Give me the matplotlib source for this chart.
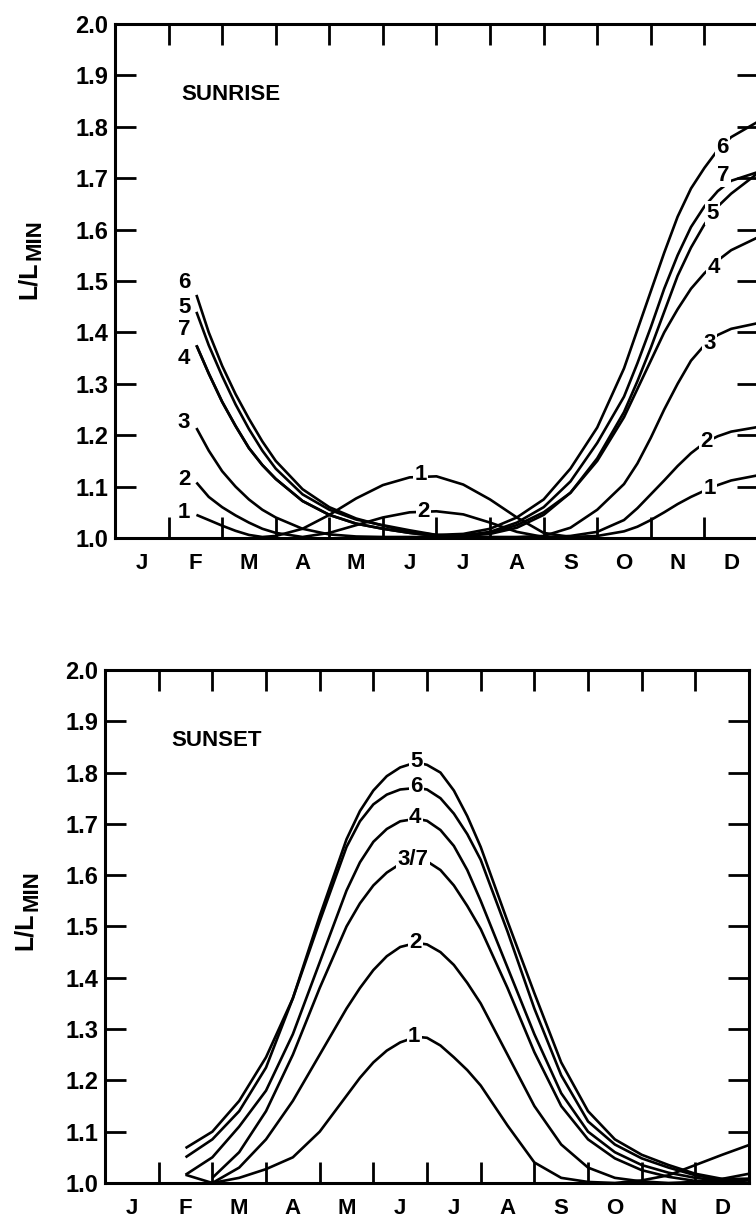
import numpy as np
import matplotlib.pyplot as plt

plt.rcParams['font.family'] = ['Liberation Sans', 'DejaVu Sans']

nan = np.nan
MONTH_LABELS = ['J', 'F', 'M', 'A', 'M', 'J', 'J', 'A', 'S', 'O', 'N', 'D']

# sunrise curves, month (0 = 1 Jan, 12 = 31 Dec) vs L/Lmin
rise_months = [1.52, 1.75, 2.0, 2.25, 2.5, 2.75, 3.0, 3.5, 4.0, 4.5, 5.0, 5.5, 6.0, 6.5,
               7.0, 7.5, 8.0, 8.5, 9.0, 9.5, 9.75, 10.0, 10.25, 10.5, 10.75, 11.0,
               11.25, 11.5, 12.0]
rise_1 = [1.045, 1.035, 1.024, 1.014, 1.006, 1.002, 1.004, 1.018, 1.045, 1.077, 1.103,
          1.118, 1.12, 1.104, 1.075, 1.04, 1.01, 1.002, 1.004, 1.013, 1.022, 1.035,
          1.05, 1.066, 1.08, 1.092, 1.103, 1.112, 1.122]
rise_2 = [1.108, 1.08, 1.06, 1.044, 1.03, 1.018, 1.01, 1.002, 1.01, 1.025, 1.04, 1.05,
          1.052, 1.046, 1.03, 1.012, 1.002, 1.004, 1.012, 1.035, 1.058, 1.085, 1.112,
          1.14, 1.165, 1.185, 1.198, 1.207, 1.216]
rise_3 = [1.214, 1.17, 1.13, 1.10, 1.075, 1.055, 1.04, 1.018, 1.007, 1.003, 1.002, 1.002,
          1.002, 1.002, 1.002, 1.002, 1.004, 1.02, 1.055, 1.105, 1.145, 1.195, 1.25,
          1.30, 1.345, 1.375, 1.395, 1.407, 1.418]
rise_4 = [1.375, 1.32, 1.265, 1.218, 1.175, 1.142, 1.115, 1.072, 1.045, 1.028, 1.018,
          1.01, 1.004, 1.004, 1.01, 1.025, 1.05, 1.088, 1.15, 1.235, 1.29, 1.345, 1.40,
          1.445, 1.485, 1.515, 1.54, 1.56, 1.585]
rise_5 = [1.44, 1.375, 1.315, 1.26, 1.212, 1.17, 1.135, 1.085, 1.055, 1.036, 1.025,
          1.015, 1.006, 1.004, 1.008, 1.02, 1.045, 1.088, 1.155, 1.245, 1.305, 1.37,
          1.44, 1.51, 1.565, 1.61, 1.645, 1.67, 1.71]
rise_6 = [1.473, 1.40, 1.335, 1.28, 1.232, 1.188, 1.15, 1.095, 1.06, 1.038, 1.024, 1.012,
          1.006, 1.008, 1.018, 1.04, 1.075, 1.135, 1.215, 1.33, 1.405, 1.48, 1.555,
          1.625, 1.68, 1.72, 1.755, 1.78, 1.81]
rise_7 = [1.375, 1.32, 1.265, 1.218, 1.175, 1.142, 1.115, 1.072, 1.045, 1.028, 1.018,
          1.01, 1.004, 1.005, 1.012, 1.03, 1.06, 1.11, 1.185, 1.275, 1.34, 1.41, 1.485,
          1.55, 1.605, 1.645, 1.675, 1.695, 1.712]

# sunset curves
set_months = [1.5, 2.0, 2.5, 3.0, 3.5, 4.0, 4.5, 4.75, 5.0, 5.25, 5.5, 5.8, 6.0, 6.25,
              6.5, 6.75, 7.0, 7.5, 8.0, 8.5, 9.0, 9.5, 10.0, 10.5, 11.0, 11.5, 12.0]
set_1 = [1.016, 1.0, 1.01, 1.027, 1.05, 1.10, 1.17, 1.205, 1.235, 1.258, 1.274, 1.285,
         1.283, 1.268, 1.245, 1.22, 1.19, 1.112, 1.04, 1.01, 1.002, 1.0, 1.005, 1.015,
         1.035, 1.055, 1.074]
set_2 = [nan, 1.0, 1.03, 1.085, 1.16, 1.25, 1.34, 1.38, 1.415, 1.442, 1.46, 1.468,
         1.465, 1.45, 1.425, 1.39, 1.35, 1.25, 1.15, 1.075, 1.03, 1.01, 1.003, 1.0,
         1.002, 1.008, 1.018]
set_3 = [nan, 1.01, 1.06, 1.14, 1.25, 1.38, 1.50, 1.545, 1.58, 1.605, 1.622, 1.63,
         1.627, 1.61, 1.58, 1.54, 1.495, 1.38, 1.255, 1.15, 1.085, 1.048, 1.025, 1.012,
         1.004, 1.002, 1.005]
set_4 = [1.016, 1.05, 1.11, 1.18, 1.29, 1.43, 1.57, 1.625, 1.665, 1.69, 1.705, 1.71,
         1.706, 1.688, 1.657, 1.61, 1.55, 1.42, 1.29, 1.175, 1.10, 1.06, 1.035, 1.02,
         1.01, 1.004, 1.006]
set_5 = [1.05, 1.085, 1.14, 1.225, 1.36, 1.52, 1.67, 1.725, 1.765, 1.793, 1.81, 1.82,
         1.815, 1.80, 1.765, 1.715, 1.655, 1.51, 1.37, 1.235, 1.14, 1.085, 1.055, 1.035,
         1.018, 1.008, 1.008]
set_6 = [1.068, 1.10, 1.16, 1.245, 1.36, 1.51, 1.655, 1.705, 1.738, 1.757, 1.767, 1.77,
         1.767, 1.75, 1.72, 1.68, 1.63, 1.49, 1.34, 1.21, 1.12, 1.075, 1.048, 1.03,
         1.015, 1.006, 1.008]

# curve labels: (text, month, value)
rise_labels = [('6', 1.29, 1.498), ('5', 1.29, 1.449), ('7', 1.29, 1.405), ('4', 1.29, 1.35),
               ('3', 1.29, 1.224), ('2', 1.29, 1.113), ('1', 1.29, 1.049),
               ('1', 5.71, 1.123), ('2', 5.75, 1.051),
               ('6', 11.34, 1.759), ('7', 11.36, 1.706), ('5', 11.16, 1.632),
               ('4', 11.17, 1.527), ('3', 11.1, 1.379), ('2', 11.04, 1.187), ('1', 11.1, 1.097)]
set_labels = [('5', 5.8, 1.821), ('6', 5.8, 1.772), ('4', 5.78, 1.713),
              ('3/7', 5.74, 1.63), ('2', 5.78, 1.468), ('1', 5.76, 1.285)]

fig = plt.figure(figsize=(7.56, 12.25), dpi=100)
ax_rise = fig.add_axes([0.1521, 0.5608, 0.8505, 0.4196])
ax_set = fig.add_axes([0.1389, 0.0343, 0.8519, 0.4188])


def style_axes(ax, title, lab_x, lab_y):
    ax.set_xlim(0, 12)
    ax.set_ylim(1.0, 2.0)
    for sp in ax.spines.values():
        sp.set_linewidth(2.2)
    ax.set_xticks(np.arange(1, 12))
    ax.set_xticklabels([])
    ax.set_xticks(np.arange(0.5, 12, 1), minor=True)
    ax.set_xticklabels(MONTH_LABELS, minor=True, fontsize=16, fontweight='bold')
    ax.tick_params(axis='x', which='major', direction='in', length=15,
                   width=2, top=True, bottom=True)
    ax.tick_params(axis='x', which='minor', length=0, pad=11)
    ax.set_yticks(np.round(np.arange(1.0, 2.01, 0.1), 1))
    ax.set_yticklabels(['%.1f' % v for v in np.arange(1.0, 2.01, 0.1)],
                       fontsize=17, fontweight='bold')
    ax.tick_params(axis='y', direction='in', length=15, width=2,
                   left=True, right=True, pad=5)
    ax.text(1.23, 1.862, title, fontsize=16, fontweight='bold', va='center')
    # axis title L/L_MIN, subscript kept near full size and shifted down
    t = ax.text(lab_x, lab_y, 'L/L', transform=ax.transAxes, rotation=90,
                fontsize=18, fontweight='bold', ha='center', va='bottom')
    fig.canvas.draw()
    bb = t.get_window_extent().transformed(ax.transAxes.inverted())
    ax.text(lab_x + 0.01, bb.y1 + 0.003, 'MIN', transform=ax.transAxes,
            rotation=90, fontsize=16, fontweight='bold', ha='center', va='bottom')


def put_labels(ax, labels):
    for txt, mx, val in labels:
        ax.text(mx, val, txt, fontsize=16, fontweight='bold', ha='center',
                va='center', zorder=5,
                bbox=dict(boxstyle='square,pad=0.06', fc='white', ec='none'))


for vals in [rise_1, rise_2, rise_3, rise_4, rise_5, rise_6, rise_7]:
    ax_rise.plot(rise_months, vals, color='black', lw=1.9, solid_capstyle='butt')
style_axes(ax_rise, 'SUNRISE', -0.134, 0.465)
put_labels(ax_rise, rise_labels)

for vals in [set_1, set_2, set_3, set_4, set_5, set_6]:
    ax_set.plot(set_months, vals, color='black', lw=1.9, solid_capstyle='butt')
style_axes(ax_set, 'SUNSET', -0.124, 0.454)
put_labels(ax_set, set_labels)

fig.savefig('out.png', dpi=100)
